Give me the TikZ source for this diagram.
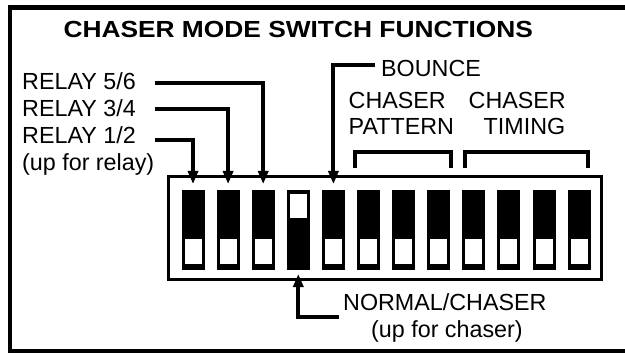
\documentclass[tikz,border=0pt]{standalone}
\usepackage{graphicx}
\usepackage{fontspec}
\setmainfont{Liberation Sans}
\usetikzlibrary{arrows.meta}
\begin{document}
\begin{tikzpicture}[x=1pt,y=-1pt,
  lbl/.style={anchor=base west, inner sep=0pt, font=\fontsize{23.3}{27}\selectfont},
  ttl/.style={anchor=base west, inner sep=0pt, font=\bfseries\fontsize{23.3}{27}\selectfont},
  arr/.style={line width=4pt, line join=miter, -{Triangle[width=10pt,length=13pt]}},
  brk/.style={line width=4.3pt, line join=miter},
  sw/.style={fill=black, minimum width=23pt, minimum height=80pt, inner sep=0pt, outer sep=0pt},
  win/.style={fill=white, minimum width=17pt, inner sep=0pt, outer sep=0pt},
  swbox/.style={draw, line width=3pt, minimum width=432.5pt, minimum height=103pt, inner sep=0pt}]
\useasboundingbox (0,0) rectangle (625,353);
% outer frame
\draw[line width=4.5pt] (9.8,7.7) rectangle (640,351.5);
% title
\node[ttl] (title) at (63.3,37.3) {\scalebox{1.13}[1]{CHASER MODE SWITCH FUNCTIONS}};
% switch box
\node[swbox] (box) at (384.75,228) {};
\foreach \i in {1,...,12}{
  \node[sw] (sw\i) at ({193+35.1*(\i-1)},230) {};
}
\foreach \i in {1,2,3,5,6,7,8,9,10,11,12}{
  \node[win, minimum height=25pt] (win\i) at (sw\i |- 0,251.5) {};
}
\node[win, minimum height=24pt] (win4) at (sw4 |- 0,206) {};
% labels
\node[lbl] (r56) at (22,89.3) {RELAY 5/6};
\node[lbl] (r34) at (22,116.5) {RELAY 3/4};
\node[lbl] (r12) at (22,143.3) {RELAY 1/2};
\node[lbl] (upr) at (22,170.3) {(up for relay)};
\node[lbl] (bounce) at (381,77) {BOUNCE};
\node[lbl] (chp) at (348.5,108.3) {CHASER};
\node[lbl] (pat) at (348.5,135) {PATTERN};
\node[lbl] (cht) at (468.5,108.3) {CHASER};
\node[lbl] (tim) at (483.5,135) {TIMING};
\node[lbl] (norm) at (343,310) {NORMAL/CHASER};
\node[lbl] (upc) at (371,337) {(up for chaser)};
% connector ends
\coordinate (tipT) at (0,184);
\coordinate (tipB) at (0,274);
\coordinate (s56) at (154.5,82.8);
\coordinate (s34) at (154.5,108.7);
\coordinate (s12) at (154.5,140.3);
\coordinate (sb) at (375,65.3);
\coordinate (sn) at (338.5,317);
\draw[arr] (s56) -- (s56 -| sw3) -- (sw3 |- tipT);
\draw[arr] (s34) -- (s34 -| sw2) -- (sw2 |- tipT);
\draw[arr] (s12) -- (s12 -| sw1) -- (sw1 |- tipT);
\draw[arr] (sb) -- (sb -| sw5) -- (sw5 |- tipT);
\draw[arr] (sn) -- (sn -| sw4) -- (sw4 |- tipB);
% brackets
\draw[brk] (355.3,168.3) -- (355.3,151.7) -- (451.2,151.7) -- (451.2,168.3);
\draw[brk] (465.3,168.3) -- (465.3,151.7) -- (588.3,151.7) -- (588.3,168.3);
\end{tikzpicture}
\end{document}
